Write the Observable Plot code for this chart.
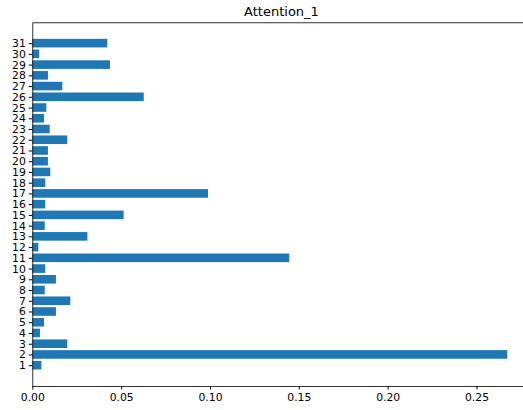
<!DOCTYPE html>
<html>
<head>
<meta charset="utf-8">
<script src="https://cdn.jsdelivr.net/npm/d3@7"></script>
<script src="https://cdn.jsdelivr.net/npm/@observablehq/plot@0.6"></script>
<style>
  html, body { margin: 0; padding: 0; background: white; }
  #wrap { position: relative; width: 523px; height: 410px; overflow: hidden; }
  #title { position: absolute; left: 32px; top: 5px; width: 499px; text-align: center;
           font-family: "DejaVu Sans", sans-serif; font-size: 13px; line-height: 13px; color: #000; }
  #chart { position: absolute; left: 0; top: 0; width: 540px; height: 410px; }
  #chart svg { max-width: none !important; width: 540px !important; height: 410px !important; }
</style>
</head>
<body>
<div id="wrap">
  <div id="chart"></div>
  <div id="title">Attention_1</div>
</div>
<script>
const titleText = "Attention_1";
const categories = [1, 2, 3, 4, 5, 6, 7, 8, 9, 10, 11, 12, 13, 14, 15, 16, 17, 18, 19, 20, 21, 22, 23, 24, 25, 26, 27, 28, 29, 30, 31];
const values = [0.0051, 0.2673, 0.0197, 0.0043, 0.0066, 0.0133, 0.0214, 0.0070, 0.0133, 0.0073,
                0.1446, 0.0034, 0.0310, 0.0070, 0.0514, 0.0073, 0.0989, 0.0073, 0.0101, 0.0088,
                0.0088, 0.0197, 0.0098, 0.0066, 0.0079, 0.0627, 0.0169, 0.0088, 0.0437, 0.0039, 0.0422];
const xTicks = [0, 0.05, 0.10, 0.15, 0.20, 0.25];

document.getElementById("title").textContent = titleText;
const data = categories.map((c, i) => ({c, v: values[i]}));
const maxV = d3.max(values);
const barH = 0.8;
const yPad = (categories.length - 1 + barH) * 0.05;

const chart = Plot.plot({
  width: 540,
  height: 410,
  marginLeft: 32.3,
  marginRight: 540 - 531,
  marginTop: 22.3,
  marginBottom: 24,
  style: { fontFamily: "DejaVu Sans, sans-serif", fontSize: "10.8px", color: "#000", background: "white", overflow: "visible", maxWidth: "none" },
  x: { domain: [0, maxV * 1.05], ticks: xTicks, tickFormat: d3.format(".2f"), tickSize: 3.5, tickPadding: 3.5, label: null },
  y: { domain: [1 - barH / 2 - yPad, 31 + barH / 2 + yPad], ticks: categories, tickFormat: d => String(d), tickSize: 3.5, tickPadding: 3.5, label: null },
  marks: [
    Plot.rectX(data, { x1: 0, x2: "v", y1: d => d.c - barH / 2, y2: d => d.c + barH / 2, fill: "#1f77b4" }),
    Plot.frame({ stroke: "#000", strokeWidth: 0.8 })
  ]
});
document.getElementById("chart").appendChild(chart);
</script>
</body>
</html>
